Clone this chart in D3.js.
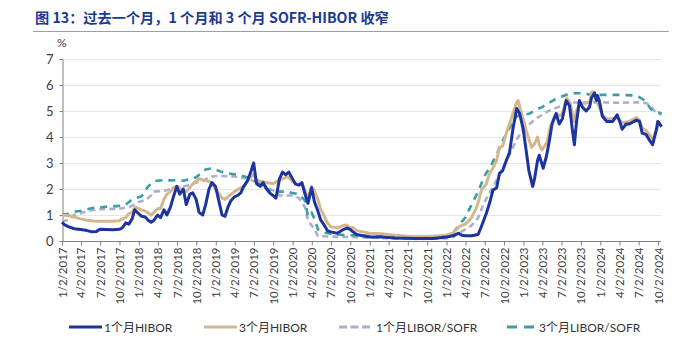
<!DOCTYPE html>
<html><head><meta charset="utf-8">
<script src="https://cdn.jsdelivr.net/npm/d3@7"></script>
<style>
body{margin:0;background:#fff;}
svg{display:block;}
</style></head>
<body><svg id="c" width="679" height="344"></svg>
<script>
const titleText = "图 13：过去一个月，1 个月和 3 个月 SOFR-HIBOR 收窄";
const unitLabel = "%";
const seriesNames = ["1个月HIBOR", "3个月HIBOR", "1个月LIBOR/SOFR", "3个月LIBOR/SOFR"];
const yTicks = [0, 1, 2, 3, 4, 5, 6, 7];
const xTickLabels = ["1/2/2017","4/2/2017","7/2/2017","10/2/2017","1/2/2018","4/2/2018","7/2/2018","10/2/2018",
  "1/2/2019","4/2/2019","7/2/2019","10/2/2019","1/2/2020","4/2/2020","7/2/2020","10/2/2020",
  "1/2/2021","4/2/2021","7/2/2021","10/2/2021","1/2/2022","4/2/2022","7/2/2022","10/2/2022",
  "1/2/2023","4/2/2023","7/2/2023","10/2/2023","1/2/2024","4/2/2024","7/2/2024","10/2/2024"];

const hibor1m = [["2017-01-02",0.72],["2017-01-15",0.62],["2017-02-01",0.55],["2017-03-01",0.47],["2017-04-01",0.44],["2017-05-01",0.40],["2017-05-20",0.36],["2017-06-15",0.37],["2017-07-01",0.45],["2017-08-01",0.44],["2017-09-01",0.43],["2017-10-01",0.45],["2017-10-15",0.50],["2017-11-01",0.70],["2017-11-15",0.65],["2017-12-01",0.85],["2017-12-13",1.20],["2018-01-01",1.05],["2018-01-15",0.95],["2018-02-01",0.92],["2018-02-15",0.80],["2018-03-01",0.72],["2018-03-15",0.80],["2018-04-01",1.00],["2018-04-15",0.90],["2018-05-01",1.20],["2018-05-15",1.00],["2018-06-01",1.30],["2018-06-15",1.70],["2018-07-01",2.10],["2018-07-15",1.80],["2018-08-01",2.00],["2018-08-15",1.40],["2018-09-01",1.80],["2018-09-15",1.85],["2018-10-01",1.60],["2018-10-15",1.10],["2018-11-01",1.00],["2018-11-15",1.40],["2018-12-01",2.00],["2018-12-15",2.25],["2019-01-01",2.10],["2019-01-15",1.60],["2019-02-01",1.00],["2019-02-15",0.95],["2019-03-01",1.30],["2019-03-15",1.55],["2019-04-01",1.70],["2019-04-15",1.75],["2019-05-01",1.85],["2019-05-15",2.10],["2019-06-01",2.30],["2019-06-15",2.60],["2019-07-01",3.00],["2019-07-15",2.20],["2019-08-01",2.10],["2019-08-15",2.25],["2019-09-01",2.00],["2019-09-15",1.85],["2019-10-01",1.75],["2019-10-15",1.65],["2019-11-01",2.40],["2019-11-15",2.65],["2019-12-01",2.55],["2019-12-15",2.65],["2020-01-01",2.40],["2020-01-15",2.20],["2020-02-01",2.15],["2020-02-15",2.25],["2020-03-01",1.80],["2020-03-15",1.45],["2020-04-01",2.05],["2020-04-15",1.50],["2020-05-01",1.15],["2020-05-15",0.80],["2020-06-01",0.60],["2020-06-15",0.40],["2020-07-01",0.35],["2020-08-01",0.30],["2020-09-01",0.45],["2020-09-15",0.50],["2020-10-01",0.45],["2020-10-15",0.35],["2020-11-01",0.25],["2020-12-01",0.20],["2021-01-01",0.15],["2021-03-01",0.15],["2021-05-01",0.12],["2021-08-01",0.10],["2021-11-01",0.10],["2022-01-01",0.15],["2022-02-01",0.20],["2022-03-01",0.30],["2022-03-15",0.22],["2022-04-01",0.20],["2022-05-01",0.20],["2022-06-01",0.25],["2022-06-16",0.55],["2022-07-10",1.07],["2022-07-25",1.45],["2022-08-10",1.95],["2022-08-28",2.05],["2022-09-10",2.60],["2022-09-25",2.70],["2022-10-13",3.10],["2022-10-28",3.40],["2022-11-13",4.30],["2022-11-21",4.65],["2022-12-01",5.10],["2022-12-15",4.90],["2023-01-01",4.30],["2023-01-13",3.60],["2023-01-28",2.70],["2023-02-15",2.10],["2023-02-24",2.40],["2023-03-10",3.10],["2023-03-18",3.30],["2023-04-06",2.80],["2023-04-21",3.25],["2023-05-04",3.80],["2023-05-18",4.50],["2023-06-06",4.90],["2023-06-21",4.50],["2023-07-06",4.70],["2023-07-24",5.40],["2023-08-09",5.20],["2023-08-22",4.30],["2023-09-01",3.70],["2023-09-10",4.50],["2023-09-25",5.40],["2023-10-09",5.15],["2023-10-27",5.00],["2023-11-12",5.15],["2023-11-21",5.50],["2023-12-06",5.70],["2023-12-15",5.40],["2023-12-19",5.60],["2023-12-28",5.40],["2024-01-12",4.80],["2024-02-01",4.60],["2024-03-01",4.60],["2024-03-22",4.85],["2024-04-03",4.60],["2024-04-15",4.30],["2024-05-04",4.50],["2024-05-19",4.50],["2024-06-22",4.65],["2024-07-06",4.60],["2024-07-19",4.15],["2024-08-06",4.10],["2024-08-21",3.90],["2024-09-06",3.70],["2024-09-25",4.30],["2024-10-01",4.60],["2024-10-19",4.40]];

const hibor3m = [["2017-01-02",1.00],["2017-02-01",0.98],["2017-03-01",0.92],["2017-04-01",0.85],["2017-05-01",0.80],["2017-06-01",0.77],["2017-07-01",0.76],["2017-08-01",0.76],["2017-09-01",0.76],["2017-10-01",0.78],["2017-10-15",0.85],["2017-11-01",0.90],["2017-11-15",1.05],["2017-12-01",1.10],["2017-12-15",1.30],["2018-01-01",1.25],["2018-01-15",1.20],["2018-02-01",1.15],["2018-03-01",1.00],["2018-03-15",1.10],["2018-04-01",1.25],["2018-04-15",1.25],["2018-05-01",1.60],["2018-05-15",1.80],["2018-06-01",1.90],["2018-06-15",2.05],["2018-07-01",2.10],["2018-08-01",1.95],["2018-08-15",1.90],["2018-09-01",2.05],["2018-09-15",2.20],["2018-10-01",2.30],["2018-10-15",2.40],["2018-11-01",2.35],["2018-12-01",2.30],["2018-12-15",2.20],["2019-01-01",2.00],["2019-01-15",1.85],["2019-02-01",1.65],["2019-02-15",1.60],["2019-03-01",1.70],["2019-04-01",1.90],["2019-05-01",2.05],["2019-05-15",2.10],["2019-06-01",2.30],["2019-06-15",2.45],["2019-07-01",2.55],["2019-07-15",2.35],["2019-08-01",2.30],["2019-09-01",2.25],["2019-10-01",2.20],["2019-11-01",2.35],["2019-12-01",2.45],["2019-12-15",2.45],["2020-01-01",2.30],["2020-01-15",2.20],["2020-02-01",2.15],["2020-02-15",2.20],["2020-03-01",1.95],["2020-03-15",1.65],["2020-04-01",2.10],["2020-04-15",1.90],["2020-05-01",1.60],["2020-05-15",1.20],["2020-06-01",0.95],["2020-06-15",0.70],["2020-07-01",0.55],["2020-08-01",0.50],["2020-09-01",0.60],["2020-09-15",0.62],["2020-10-01",0.50],["2020-10-15",0.52],["2020-11-01",0.40],["2020-12-01",0.35],["2021-01-01",0.30],["2021-03-01",0.28],["2021-05-01",0.22],["2021-07-01",0.18],["2021-10-01",0.17],["2021-12-01",0.20],["2022-01-01",0.22],["2022-02-01",0.30],["2022-03-03",0.55],["2022-04-01",0.65],["2022-05-01",0.90],["2022-05-25",1.30],["2022-06-05",1.60],["2022-06-16",1.95],["2022-07-10",2.20],["2022-07-25",2.60],["2022-08-10",2.80],["2022-08-28",3.10],["2022-09-10",3.60],["2022-09-25",3.65],["2022-10-13",4.15],["2022-10-28",4.50],["2022-11-13",4.90],["2022-12-01",5.35],["2022-12-08",5.40],["2022-12-20",5.00],["2023-01-08",4.50],["2023-01-18",4.15],["2023-02-10",3.60],["2023-02-24",3.75],["2023-03-10",4.00],["2023-03-18",3.70],["2023-03-31",3.50],["2023-04-25",3.80],["2023-05-10",4.40],["2023-05-25",4.70],["2023-06-10",4.90],["2023-06-21",4.80],["2023-07-06",4.90],["2023-07-27",5.50],["2023-08-13",5.30],["2023-08-25",4.80],["2023-09-01",4.60],["2023-09-10",5.00],["2023-09-30",5.30],["2023-10-27",5.30],["2023-11-12",5.35],["2023-11-21",5.70],["2023-11-25",5.75],["2023-12-15",5.40],["2023-12-28",5.15],["2024-01-12",4.85],["2024-02-01",4.70],["2024-03-01",4.70],["2024-03-22",4.75],["2024-04-15",4.55],["2024-05-19",4.60],["2024-06-22",4.75],["2024-07-06",4.65],["2024-07-19",4.35],["2024-08-06",4.25],["2024-08-21",4.10],["2024-09-10",3.90],["2024-09-25",4.30],["2024-10-01",4.60],["2024-10-19",4.40]];

const sofr1m = [["2017-01-02",0.77],["2017-02-01",0.80],["2017-03-01",1.00],["2017-04-01",1.07],["2017-05-01",1.15],["2017-06-15",1.22],["2017-10-01",1.24],["2017-11-01",1.28],["2017-12-01",1.35],["2018-01-01",1.50],["2018-02-01",1.57],["2018-03-01",1.75],["2018-03-15",1.90],["2018-05-01",1.92],["2018-06-01",2.00],["2018-07-01",2.08],["2018-08-01",2.10],["2018-09-01",2.15],["2018-10-01",2.25],["2018-11-01",2.30],["2018-12-01",2.45],["2019-01-01",2.50],["2019-02-01",2.50],["2019-03-01",2.49],["2019-04-01",2.48],["2019-05-01",2.44],["2019-06-01",2.40],["2019-07-01",2.30],["2019-08-01",2.20],["2019-09-01",2.05],["2019-10-01",1.95],["2019-11-01",1.75],["2019-12-01",1.75],["2020-01-01",1.75],["2020-02-01",1.65],["2020-03-01",1.30],["2020-03-15",0.80],["2020-04-01",0.60],["2020-04-15",0.45],["2020-05-01",0.20],["2020-06-01",0.18],["2020-08-01",0.16],["2020-11-01",0.15],["2021-03-01",0.11],["2021-06-01",0.09],["2021-09-01",0.08],["2021-12-01",0.10],["2022-01-01",0.10],["2022-02-01",0.15],["2022-03-01",0.30],["2022-04-01",0.45],["2022-05-01",0.60],["2022-06-01",0.90],["2022-07-01",1.50],["2022-08-01",1.95],["2022-09-01",2.40],["2022-10-01",2.90],["2022-11-01",3.40],["2022-12-01",3.90],["2023-01-01",4.30],["2023-02-01",4.50],["2023-03-01",4.70],["2023-04-01",4.85],["2023-05-01",5.00],["2023-06-01",5.10],["2023-07-01",5.20],["2023-08-01",5.32],["2023-10-01",5.33],["2024-01-01",5.33],["2024-04-01",5.32],["2024-07-01",5.33],["2024-08-10",5.30],["2024-09-01",5.15],["2024-09-20",4.95],["2024-10-19",4.85]];

const sofr3m = [["2017-01-02",1.02],["2017-02-01",1.05],["2017-03-01",1.12],["2017-04-01",1.16],["2017-05-01",1.22],["2017-06-01",1.28],["2017-07-01",1.30],["2017-08-01",1.32],["2017-09-01",1.33],["2017-10-01",1.35],["2017-11-01",1.40],["2017-12-01",1.60],["2018-01-15",1.72],["2018-02-15",2.10],["2018-03-15",2.30],["2018-05-01",2.34],["2018-06-01",2.33],["2018-07-01",2.34],["2018-08-01",2.32],["2018-09-01",2.38],["2018-10-01",2.45],["2018-11-15",2.75],["2018-12-15",2.80],["2019-02-01",2.65],["2019-03-01",2.60],["2019-04-15",2.55],["2019-06-01",2.45],["2019-07-15",2.30],["2019-08-15",2.10],["2019-09-15",1.95],["2019-11-01",1.90],["2019-12-01",1.90],["2020-01-01",1.85],["2020-02-01",1.80],["2020-03-01",1.55],["2020-03-15",0.95],["2020-04-01",1.10],["2020-04-15",0.85],["2020-05-01",0.45],["2020-06-01",0.32],["2020-07-01",0.28],["2020-08-01",0.25],["2020-10-01",0.22],["2021-01-01",0.20],["2021-04-01",0.18],["2021-07-01",0.13],["2021-10-01",0.12],["2022-01-01",0.20],["2022-02-01",0.30],["2022-02-15",0.45],["2022-03-01",0.60],["2022-04-01",0.90],["2022-05-01",1.40],["2022-06-01",1.90],["2022-07-01",2.50],["2022-08-01",2.90],["2022-09-01",3.40],["2022-10-01",3.95],["2022-11-01",4.40],["2022-12-01",4.80],["2023-01-01",4.85],["2023-02-01",4.90],["2023-03-01",5.05],["2023-04-01",5.15],["2023-05-01",5.30],["2023-06-01",5.45],["2023-07-01",5.55],["2023-08-01",5.65],["2023-09-01",5.68],["2023-10-01",5.68],["2023-11-01",5.65],["2023-12-01",5.62],["2024-01-01",5.62],["2024-04-01",5.62],["2024-06-01",5.60],["2024-07-01",5.55],["2024-08-01",5.40],["2024-09-01",5.05],["2024-10-19",4.90]];

const colors = ["#1B34A0", "#D5B68E", "#ABAFCB", "#3C9DA6"];

(function () {
const svg = d3.select("#c");
const pL = 62, pR = 661, pT = 59, pB = 241;
const parseDay = d3.timeParse("%Y-%m-%d");
const parseTick = d3.timeParse("%m/%d/%Y");
const tickDates = xTickLabels.map(parseTick);

const x = d3.scaleTime()
  .domain([tickDates[0], tickDates[tickDates.length - 1]])
  .range([pL, 658]);
const y = d3.scaleLinear().domain([0, 7]).range([pB, pT]);

// title
svg.append("text").attr("x", 35).attr("y", 23)
  .attr("font-family", "'Noto Sans CJK SC', sans-serif").attr("font-weight", "bold")
  .attr("font-size", 14.2).attr("fill", "#1C3A8E").text(titleText);
svg.append("line").attr("x1", 33).attr("x2", 669).attr("y1", 31.5).attr("y2", 31.5)
  .attr("stroke", "#8B9FD6").attr("stroke-width", 1);

// unit
svg.append("text").attr("x", 57).attr("y", 47)
  .attr("font-family", "Lato, sans-serif").attr("font-size", 12).attr("fill", "#404040").text(unitLabel);

// gridlines
svg.append("g").selectAll("line").data(yTicks.filter(d => d > 0)).join("line")
  .attr("x1", pL).attr("x2", pR)
  .attr("y1", d => Math.round(y(d)) + 0.5).attr("y2", d => Math.round(y(d)) + 0.5)
  .attr("stroke", "#E6E6E6").attr("stroke-width", 1);

// y axis
const yAxis = svg.append("g").attr("transform", `translate(${pL + 0.5},0)`)
  .call(d3.axisLeft(y).tickValues(yTicks).tickSize(3).tickPadding(6).tickFormat(d3.format("d")));
yAxis.select(".domain").attr("stroke", "#808080");
yAxis.selectAll(".tick line").attr("stroke", "#808080");
yAxis.selectAll("text").attr("font-family", "Lato, sans-serif").attr("font-size", 13).attr("fill", "#404040");

// x axis
const xAxis = svg.append("g").attr("transform", `translate(0,${pB + 0.5})`)
  .call(d3.axisBottom(x).tickValues(tickDates).tickSize(4).tickFormat((d, i) => xTickLabels[i]));
xAxis.select(".domain").attr("stroke", "#808080").attr("d", `M${pL},0H${pR}`);
xAxis.selectAll(".tick line").attr("stroke", "#808080");
xAxis.selectAll("text")
  .attr("font-family", "Lato, sans-serif").attr("font-size", 11.5).attr("fill", "#404040")
  .attr("transform", "rotate(-90)").attr("text-anchor", "end")
  .attr("x", -6).attr("y", 0).attr("dy", "0.35em");

// lines
const lineGen = d3.line().x(d => x(parseDay(d[0]))).y(d => y(d[1])).curve(d3.curveLinear);
const allSeries = [hibor1m, hibor3m, sofr1m, sofr3m];
const widths = [3, 3, 2.6, 2.6];
const dashes = [null, null, "6,4", "7,6"];
const order = [2, 3, 1, 0];
const plot = svg.append("g");
order.forEach(i => {
  plot.append("path").datum(allSeries[i])
    .attr("fill", "none").attr("stroke", colors[i]).attr("stroke-width", widths[i])
    .attr("stroke-linejoin", "round")
    .attr("stroke-dasharray", dashes[i]).attr("d", lineGen);
});

// legend
const legendItems = [
  {lx: 69, len: 33, tx: 104, dash: null}, {lx: 204, len: 33, tx: 239, dash: null},
  {lx: 339, len: 31, tx: 376, dash: "8,3.5"}, {lx: 507, len: 28, tx: 539, dash: "10,7"}
];
const lg = svg.append("g");
legendItems.forEach((it, i) => {
  lg.append("line").attr("x1", it.lx).attr("x2", it.lx + it.len).attr("y1", 327).attr("y2", 327)
    .attr("stroke", colors[i]).attr("stroke-width", 3)
    .attr("stroke-dasharray", it.dash);
  lg.append("text").attr("x", it.tx).attr("y", 331.5)
    .attr("font-family", "Lato, 'Noto Sans CJK SC', sans-serif").attr("font-size", 12).attr("fill", "#333")
    .text(seriesNames[i]);
});
})();
</script></body></html>
